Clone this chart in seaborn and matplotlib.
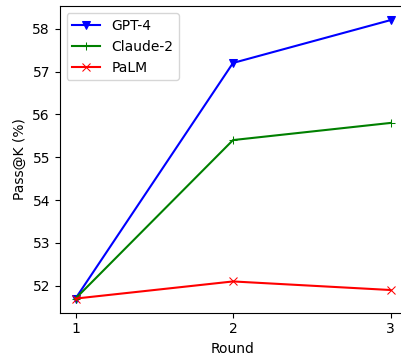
import matplotlib
matplotlib.use("Agg")
import matplotlib.pyplot as plt
import seaborn as sns
import pandas as pd

rounds = [1, 2, 3]
gpt4 = [51.7, 57.2, 58.2]
claude2 = [51.7, 55.4, 55.8]
palm = [51.7, 52.1, 51.9]

models = ["GPT-4", "Claude-2", "PaLM"]
colors = ["blue", "green", "red"]
markers = ["v", "+", "x"]

df = pd.DataFrame({
    "Round": rounds * 3,
    "score": gpt4 + claude2 + palm,
    "model": [m for m in models for _ in rounds],
})

fig = plt.figure(figsize=(4.01, 3.54), dpi=100)
ax = fig.add_axes([59.75 / 401, 41.5 / 354, 346.5 / 401, 306.3 / 354])

for m, c, mk in zip(models, colors, markers):
    sub = df[df["model"] == m]
    sns.lineplot(data=sub, x="Round", y="score", color=c, marker=mk,
                 markersize=6, markeredgecolor=c, linewidth=1.5, label=m, ax=ax)

ax.set_xticks(rounds)
ax.set_xlabel("Round")
ax.set_ylabel("Pass@K (%)")
ax.legend(loc="upper left")

fig.savefig("out.png", dpi=100)
